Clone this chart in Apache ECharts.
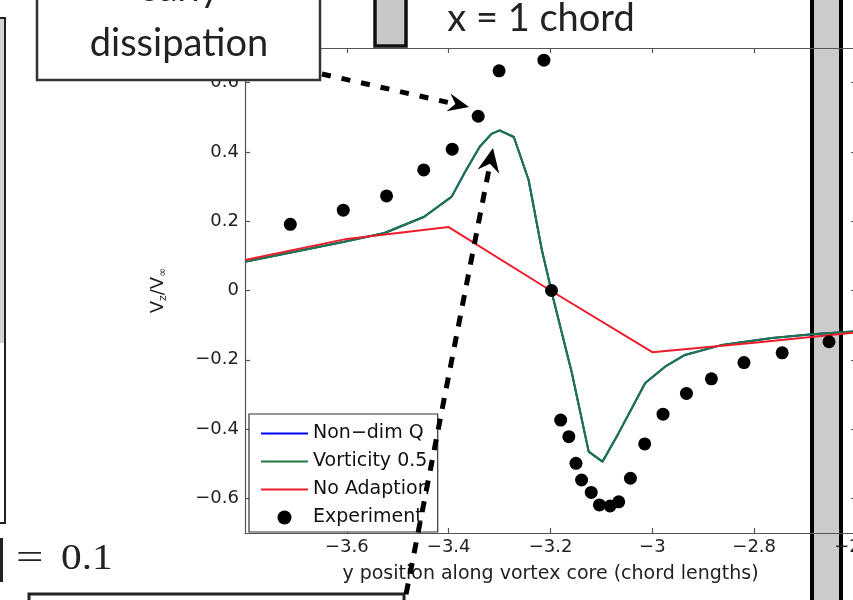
<!DOCTYPE html>
<html>
<head>
<meta charset="utf-8">
<script src="https://cdn.jsdelivr.net/npm/echarts@6/dist/echarts.min.js"></script>
<style>
  html, body { margin: 0; padding: 0; background: #ffffff; }
  #chart { width: 853px; height: 600px; }
</style>
</head>
<body>
<div id="chart"></div>
<script>
// Tick positions on both axes
const xTicks = [-3.6, -3.4, -3.2, -3.0, -2.8, -2.6];
const yTicks = [-0.6, -0.4, -0.2, 0, 0.2, 0.4, 0.6];

// Experimental measurements (y position, Vz/Vinf)
const expX = [-3.711, -3.607, -3.522, -3.449, -3.393, -3.342, -3.301, -3.213, -3.198,
              -3.180, -3.164, -3.150, -3.139, -3.120, -3.104, -3.083, -3.066, -3.043,
              -3.015, -2.979, -2.933, -2.884, -2.820, -2.745, -2.653];
const expY = [0.191, 0.232, 0.273, 0.348, 0.408, 0.503, 0.634, 0.665, 0.000,
              -0.374, -0.422, -0.499, -0.547, -0.583, -0.619, -0.622, -0.610, -0.542,
              -0.443, -0.357, -0.297, -0.255, -0.208, -0.180, -0.148];

// Vorticity 0.5 adaption
const vortX = [-3.8, -3.605, -3.526, -3.448, -3.394, -3.369, -3.339, -3.316, -3.300, -3.272,
               -3.243, -3.217, -3.194, -3.158, -3.125, -3.098, -3.066, -3.014, -2.975, -2.936,
               -2.863, -2.765, -2.686, -2.6];
const vortY = [0.083, 0.141, 0.166, 0.213, 0.271, 0.339, 0.415, 0.452, 0.462, 0.443,
               0.319, 0.117, -0.027, -0.238, -0.465, -0.494, -0.411, -0.267, -0.220, -0.186,
               -0.157, -0.137, -0.126, -0.118];

// Non-dimensional Q adaption (lies under the vorticity curve)
const qX = [-3.8, -3.605, -3.526, -3.448, -3.394, -3.369, -3.339, -3.316, -3.300, -3.272,
            -3.243, -3.217, -3.194, -3.158, -3.125, -3.098, -3.066, -3.014, -2.975, -2.936,
            -2.863, -2.765, -2.686, -2.6];
const qY = [0.083, 0.141, 0.166, 0.213, 0.271, 0.339, 0.415, 0.452, 0.462, 0.443,
            0.319, 0.117, -0.027, -0.238, -0.465, -0.494, -0.411, -0.267, -0.220, -0.186,
            -0.157, -0.137, -0.126, -0.118];

// Baseline mesh, no adaption
const noAdX = [-3.8, -3.6, -3.4, -3.2, -3.0, -2.8, -2.6];
const noAdY = [0.088, 0.149, 0.183, 0.000, -0.178, -0.151, -0.121];

const seriesNames = ['Non\u2212dim Q', 'Vorticity 0.5', 'No Adaption', 'Experiment'];

const pairs = (xs, ys) => xs.map((x, i) => [x, ys[i]]);
const fmt = v => {
  const r = Math.round(v * 10) / 10;
  if (r === 0) return '0';
  return (r < 0 ? '\u2212' : '') + String(Math.abs(r));
};

const FONT = 'DejaVu Sans';
const axisColor = '#555555';
const lineStyleAxis = { color: axisColor, width: 1.2 };

const chart = echarts.init(document.getElementById('chart'), null, { renderer: 'canvas' });

// legend entries for the curves show only their line
const lineEntry = name => ({ name: name, itemStyle: { opacity: 0 } });

const option = {
  animation: false,
  backgroundColor: '#ffffff',
  grid: { left: 245, top: 48, width: 611, height: 485, containLabel: false, outerBoundsMode: 'none' },
  legend: {
    orient: 'vertical',
    left: 249,
    top: 414,
    itemWidth: 47,
    itemHeight: 14,
    itemGap: 9,
    padding: [10, 8, 5, 11],
    backgroundColor: '#ffffff',
    borderColor: '#333333',
    borderWidth: 1.2,
    borderRadius: 0,
    selectedMode: false,
    textStyle: { fontFamily: FONT, fontSize: 19, color: '#111111' },
    data: [lineEntry(seriesNames[0]), lineEntry(seriesNames[1]), lineEntry(seriesNames[2]), { name: seriesNames[3] }]
  },
  xAxis: [
    {
      type: 'value', min: -3.8, max: -2.6, position: 'bottom',
      axisLine: { show: true, onZero: false, lineStyle: lineStyleAxis },
      axisTick: { show: true, inside: true, length: 5, customValues: xTicks, lineStyle: lineStyleAxis },
      axisLabel: { customValues: xTicks, formatter: fmt, fontFamily: FONT, fontSize: 18, color: '#222222', margin: 5 },
      splitLine: { show: false },
      name: 'y position along vortex core (chord lengths)',
      nameLocation: 'middle', nameGap: 32,
      nameTextStyle: { fontFamily: FONT, fontSize: 19, color: '#222222' }
    },
    {
      type: 'value', min: -3.8, max: -2.6, position: 'top',
      axisLine: { show: true, onZero: false, lineStyle: lineStyleAxis },
      axisTick: { show: true, inside: true, length: 5, customValues: xTicks, lineStyle: lineStyleAxis },
      axisLabel: { show: false },
      splitLine: { show: false }
    }
  ],
  yAxis: [
    {
      type: 'value', min: -0.7, max: 0.7, position: 'left',
      axisLine: { show: true, onZero: false, lineStyle: lineStyleAxis },
      axisTick: { show: true, inside: true, length: 5, customValues: yTicks, lineStyle: lineStyleAxis },
      axisLabel: { customValues: yTicks, formatter: fmt, fontFamily: FONT, fontSize: 18, color: '#222222', margin: 6 },
      splitLine: { show: false },
      name: '{v|V}{s|z}{v|/V}{s|\u221E}',
      nameLocation: 'middle', nameGap: 76, nameRotate: 90,
      nameTextStyle: {
        rich: {
          v: { fontFamily: FONT, fontSize: 18, color: '#222222', lineHeight: 22 },
          s: { fontFamily: FONT, fontSize: 11, color: '#222222', verticalAlign: 'bottom', lineHeight: 12, padding: [8, 0, 0, 0] }
        }
      }
    },
    {
      type: 'value', min: -0.7, max: 0.7, position: 'right',
      axisLine: { show: true, onZero: false, lineStyle: lineStyleAxis },
      axisTick: { show: true, inside: true, length: 5, customValues: yTicks, lineStyle: lineStyleAxis },
      axisLabel: { show: false },
      splitLine: { show: false }
    }
  ],
  series: [
    {
      name: seriesNames[0], type: 'line', xAxisIndex: 0, yAxisIndex: 0,
      data: pairs(qX, qY), symbol: 'none',
      lineStyle: { color: '#0000ff', width: 2 }, itemStyle: { color: '#0000ff' }, z: 2
    },
    {
      name: seriesNames[1], type: 'line', xAxisIndex: 0, yAxisIndex: 0,
      data: pairs(vortX, vortY), symbol: 'none',
      lineStyle: { color: '#1b7a3c', width: 2 }, itemStyle: { color: '#1b7a3c' }, z: 3
    },
    {
      name: seriesNames[2], type: 'line', xAxisIndex: 0, yAxisIndex: 0,
      data: pairs(noAdX, noAdY), symbol: 'none',
      lineStyle: { color: '#ec1c2a', width: 2 }, itemStyle: { color: '#ec1c2a' }, z: 4
    },
    {
      name: seriesNames[3], type: 'scatter', xAxisIndex: 0, yAxisIndex: 0,
      data: pairs(expX, expY), symbol: 'circle', symbolSize: 13,
      itemStyle: { color: '#000000', opacity: 1 }, z: 5
    }
  ],
  graphic: [
    // shaded section marker crossing the plot
    { type: 'rect', z: -1, shape: { x: 812, y: -10, width: 29, height: 620 },
      style: { fill: '#cbcbcb', stroke: '#000000', lineWidth: 4 } },
    // slide box on the far left
    { type: 'rect', z: 100, shape: { x: 0, y: 19, width: 4, height: 324 },
      style: { fill: '#d4d4d4' } },
    { type: 'rect', z: 100, shape: { x: -20, y: 18, width: 25, height: 505 },
      style: { fill: null, stroke: '#222222', lineWidth: 2 } },
    // "early dissipation" callout
    { type: 'rect', z: 100, shape: { x: 37, y: -40, width: 283, height: 120 },
      style: { fill: '#ffffff', stroke: '#333333', lineWidth: 2.5 } },
    { type: 'text', z: 101, x: 179, y: -11,
      style: { text: 'early', font: '38px Lato', fill: '#222222', align: 'center', verticalAlign: 'middle' } },
    { type: 'text', z: 101, x: 179, y: 44,
      style: { text: 'dissipation', font: '38px Lato', fill: '#222222', align: 'center', verticalAlign: 'middle' } },
    // section key
    { type: 'rect', z: 100, shape: { x: 375, y: -10, width: 31, height: 56 },
      style: { fill: '#c8c8c8', stroke: '#111111', lineWidth: 3.5 } },
    { type: 'text', z: 101, x: 541, y: 19,
      style: { text: 'x = 1 chord', font: '38px Lato', fill: '#222222', align: 'center', verticalAlign: 'middle' } },
    // equation fragment
    { type: 'line', z: 100, shape: { x1: 1.5, y1: 538, x2: 1.5, y2: 582 },
      style: { stroke: '#222222', lineWidth: 3 } },
    { type: 'text', z: 101, x: 16, y: 560, scaleX: 1.35,
      style: { text: '=', font: '36px "Liberation Serif"', fill: '#222222', align: 'left', verticalAlign: 'middle' } },
    { type: 'text', z: 101, x: 61, y: 560, scaleX: 1.15,
      style: { text: '0.1', font: '36px "Liberation Serif"', fill: '#222222', align: 'left', verticalAlign: 'middle' } },
    // lower box
    { type: 'rect', z: 100, shape: { x: 29, y: 594, width: 375, height: 40 },
      style: { fill: '#ffffff', stroke: '#222222', lineWidth: 3 } },
    // dashed arrow to the early peak
    { type: 'polyline', z: 110, shape: { points: [[322, 74], [455, 104]] },
      style: { stroke: '#000000', lineWidth: 5, lineDash: [9, 11], fill: null } },
    { type: 'polygon', z: 110, shape: { points: [[469, 107], [450.5, 93.6], [455.4, 103.9], [446.5, 111.2]] },
      style: { fill: '#000000' } },
    // dashed arrow up to the computed peak
    { type: 'polyline', z: 110, shape: { points: [[402, 615], [490, 164]] },
      style: { stroke: '#000000', lineWidth: 5, lineDash: [11, 10], fill: null } },
    { type: 'polygon', z: 110, shape: { points: [[493, 148], [499.2, 173.7], [489.9, 163.7], [477.6, 169.5]] },
      style: { fill: '#000000' } }
  ]
};

chart.setOption(option);
</script>
</body>
</html>
